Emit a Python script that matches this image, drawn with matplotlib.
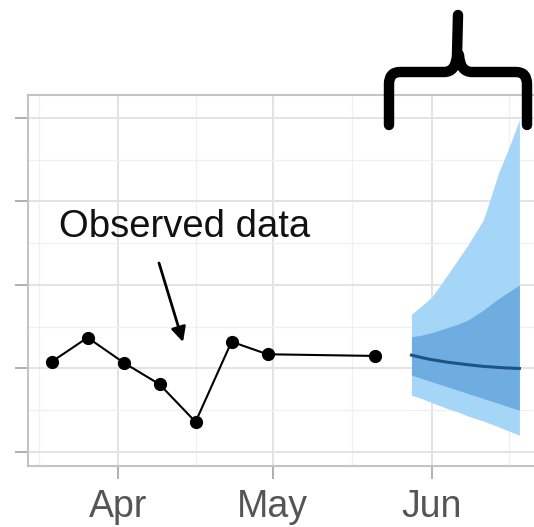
import matplotlib
matplotlib.use('Agg')
import matplotlib.pyplot as plt
import matplotlib.dates as mdates
from matplotlib.path import Path
from matplotlib.patches import PathPatch
from matplotlib.ticker import MultipleLocator, FixedLocator, NullFormatter
from matplotlib.transforms import Affine2D
import numpy as np

plt.rc('font', family=['Liberation Sans', 'DejaVu Sans'])

# observed weekly values
obs_dates = np.array(['2020-03-19', '2020-03-26', '2020-04-02', '2020-04-09',
                      '2020-04-16', '2020-04-23', '2020-04-30', '2020-05-21'],
                     dtype='datetime64[D]')
obs_values = [1.08, 1.37, 1.07, 0.81, 0.36, 1.32, 1.17, 1.15]

# forecast: median and two intervals
fc_dates = np.array(['2020-05-28', '2020-05-30', '2020-06-01', '2020-06-04',
                     '2020-06-06', '2020-06-08', '2020-06-11', '2020-06-14',
                     '2020-06-16', '2020-06-18'], dtype='datetime64[D]')
fc_median = [1.16, 1.13, 1.105, 1.075, 1.06, 1.045, 1.025, 1.012, 1.005, 1.00]
fc_inner_lo = [0.92, 0.88, 0.84, 0.78, 0.74, 0.70, 0.64, 0.58, 0.54, 0.50]
fc_inner_hi = [1.38, 1.40, 1.43, 1.49, 1.53, 1.58, 1.70, 1.84, 1.92, 2.00]
fc_outer_lo = [0.68, 0.64, 0.59, 0.52, 0.48, 0.43, 0.37, 0.30, 0.25, 0.20]
fc_outer_hi = [1.65, 1.75, 1.86, 2.12, 2.30, 2.48, 2.78, 3.35, 3.65, 3.98]

month_ticks = np.array(['2020-04-01', '2020-05-01', '2020-06-01'],
                       dtype='datetime64[D]')
month_labels = ['Apr', 'May', 'Jun']

W, H = 534, 527
fig = plt.figure(figsize=(W / 100, H / 100), dpi=100)
ax = fig.add_axes([28 / W, (H - 466) / H, (560 - 28) / W, (466 - 95) / H])

light, dark, mid = '#a6d6f7', '#6fade0', '#1d5485'
ax.fill_between(fc_dates, fc_outer_lo, fc_outer_hi, color=light, lw=0, zorder=2)
ax.fill_between(fc_dates, fc_inner_lo, fc_inner_hi, color=dark, lw=0, zorder=3)
ax.plot(fc_dates, fc_median, color=mid, lw=2.2, zorder=4)
ax.plot(obs_dates, obs_values, color='black', lw=1.5, marker='o',
        markersize=8.5, zorder=5)

# axes cosmetics, ggplot-ish
apr1 = mdates.date2num(np.datetime64('2020-04-01'))
ax.set_xlim(apr1 - 17.6, apr1 + 85.9)
ax.set_ylim(-0.168, 4.275)
major = mdates.date2num(np.concatenate([[np.datetime64('2020-03-01')],
                                         month_ticks,
                                         [np.datetime64('2020-07-01')]]))
ax.xaxis.set_major_locator(FixedLocator(mdates.date2num(month_ticks)))
ax.xaxis.set_minor_locator(FixedLocator((major[:-1] + major[1:]) / 2))
ax.set_xticklabels(month_labels)
ax.yaxis.set_major_locator(MultipleLocator(1))
ax.yaxis.set_minor_locator(MultipleLocator(0.5))
ax.yaxis.set_major_formatter(NullFormatter())
ax.grid(which='major', color='#e3e3e3', lw=1.4, zorder=0)
ax.grid(which='minor', color='#f0f0f0', lw=1.0, zorder=0)
ax.set_axisbelow(True)
for s in ax.spines.values():
    s.set_color('#c4c4c4')
    s.set_linewidth(1.5)
ax.tick_params(which='major', length=9.5, width=1.4, color='#b0b0b0',
               labelsize=27, labelcolor='#555555', pad=7)
ax.tick_params(which='minor', length=0)
ax.tick_params(axis='y', labelleft=False)

# annotation
fig.text(185 / W, 1 - 237 / H, 'Observed data', fontsize=27.5, color='#111111',
         ha='center', va='baseline')
ax.annotate('', xy=(183, H - 342), xycoords='figure pixels',
            xytext=(159, H - 263), textcoords='figure pixels',
            arrowprops=dict(arrowstyle='-|>', color='black', lw=2,
                            mutation_scale=22, shrinkA=0, shrinkB=0))

# curly brace over the forecast
verts = [(389, 125), (389, 84), (389, 72), (400, 72), (444, 72),
         (456, 72), (457, 55), (458, 15),
         (527, 125), (527, 84), (527, 72), (516, 72), (472, 72),
         (460, 72), (459, 55)]
codes = [Path.MOVETO, Path.LINETO, Path.CURVE3, Path.CURVE3, Path.LINETO,
         Path.CURVE3, Path.CURVE3, Path.LINETO,
         Path.MOVETO, Path.LINETO, Path.CURVE3, Path.CURVE3, Path.LINETO,
         Path.CURVE3, Path.CURVE3]
px = Affine2D().scale(1 / W, -1 / H).translate(0, 1) + fig.transFigure
brace = PathPatch(Path(verts, codes), fill=False, lw=7.5, color='black',
                  capstyle='round', joinstyle='round', transform=px)
fig.add_artist(brace)

fig.savefig('out.png', dpi=100)
